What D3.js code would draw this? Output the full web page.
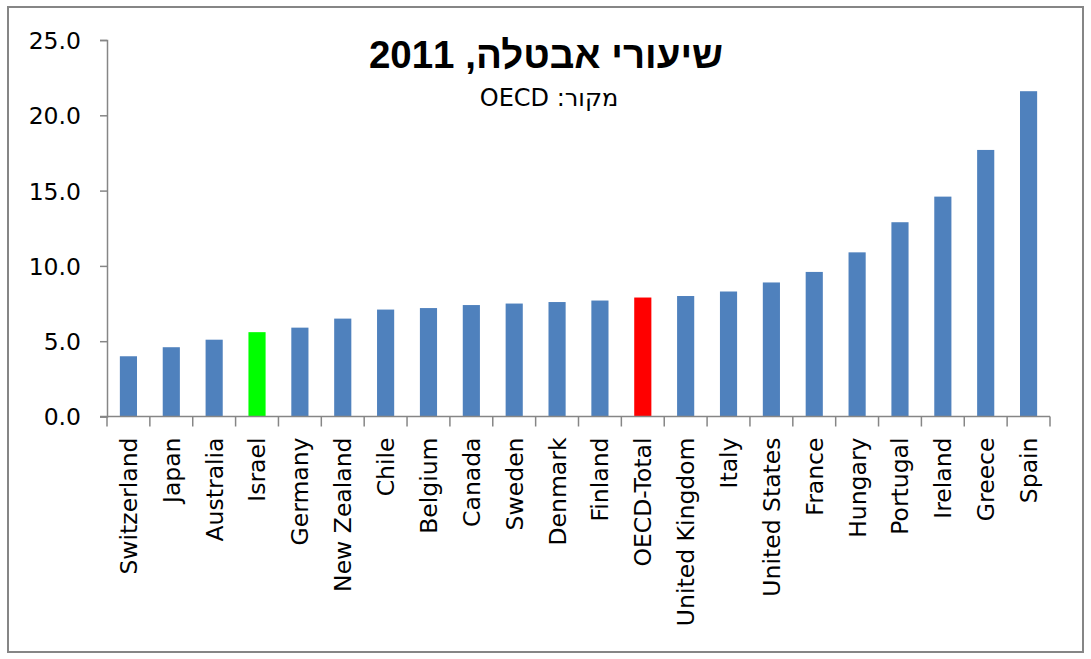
<html lang="he">
<head>
<meta charset="UTF-8">
<title>Unemployment 2011</title>
<script src="https://d3js.org/d3.v7.min.js"></script>
<style>
    body { margin: 0; background: #fff; }
    .axis text { font-family: "DejaVu Sans", sans-serif; font-size: 23.5px; fill: #000; }
</style>
</head>
<body>
<div id="chart"></div>
<script>
    // data
    const countries = ["Switzerland", "Japan", "Australia", "Israel", "Germany", "New Zealand",
        "Chile", "Belgium", "Canada", "Sweden", "Denmark", "Finland", "OECD-Total",
        "United Kingdom", "Italy", "United States", "France", "Hungary", "Portugal",
        "Ireland", "Greece", "Spain"];
    const rates = [4.0, 4.6, 5.1, 5.6, 5.9, 6.5, 7.1, 7.2, 7.4, 7.5, 7.6, 7.7, 7.9,
        8.0, 8.3, 8.9, 9.6, 10.9, 12.9, 14.6, 17.7, 21.6];
    const yTicks = [0, 5, 10, 15, 20, 25];
    const highlight = { "Israel": "#00ff00", "OECD-Total": "#ff0000" };

    const W = 1091, H = 659;
    const margin = { top: 40, left: 107, right: 41, bottom: 242.5 };

    const svg = d3.select("#chart").append("svg")
        .attr("width", W)
        .attr("height", H);

    // chart frame
    svg.append("rect")
        .attr("x", 8).attr("y", 7)
        .attr("width", 1075).attr("height", 645)
        .attr("fill", "none")
        .attr("stroke", "#868686")
        .attr("stroke-width", 2);

    const x = d3.scaleBand()
        .domain(countries)
        .range([margin.left, W - margin.right])
        .paddingInner(0.6)
        .paddingOuter(0.3);

    const y = d3.scaleLinear()
        .domain([0, 25])
        .range([H - margin.bottom, margin.top]);

    // bars
    svg.append("g")
        .selectAll("rect")
        .data(countries)
        .enter()
        .append("rect")
        .attr("x", d => x(d))
        .attr("width", x.bandwidth())
        .attr("y", (d, i) => y(rates[i]))
        .attr("height", (d, i) => y(0) - y(rates[i]))
        .attr("fill", d => highlight[d] || "#4f81bd");

    // y axis
    const yAxis = svg.append("g")
        .attr("class", "axis")
        .attr("transform", "translate(" + margin.left + ",0)")
        .call(d3.axisLeft(y).tickValues(yTicks).tickFormat(d3.format(".1f")).tickSize(7).tickPadding(19));
    yAxis.select(".domain").attr("stroke", "#868686").attr("stroke-width", 1.5);
    yAxis.selectAll(".tick line").attr("stroke", "#868686").attr("stroke-width", 1.5);
    yAxis.selectAll("text").attr("dy", "0.36em");

    // x axis: ticks sit between categories
    const step = x.step();
    const bounds = d3.range(countries.length + 1).map(i => margin.left + i * step);
    const xg = svg.append("g").attr("class", "axis");
    xg.append("line")
        .attr("x1", margin.left - 7).attr("x2", W - margin.right)
        .attr("y1", y(0)).attr("y2", y(0))
        .attr("stroke", "#868686").attr("stroke-width", 1.5);
    xg.selectAll(".tk")
        .data(bounds)
        .enter()
        .append("line")
        .attr("x1", d => d).attr("x2", d => d)
        .attr("y1", y(0)).attr("y2", y(0) + 10)
        .attr("stroke", "#868686").attr("stroke-width", 1.5);
    xg.selectAll(".lbl")
        .data(countries)
        .enter()
        .append("text")
        .attr("text-anchor", "end")
        .attr("dy", "0.36em")
        .attr("transform", d => "translate(" + (x(d) + x.bandwidth() / 2) + "," + (y(0) + 21) + ") rotate(-90)")
        .text(d => d);

    // titles (right-to-left)
    svg.append("text")
        .attr("x", 546).attr("y", 68)
        .attr("text-anchor", "middle")
        .attr("direction", "rtl")
        .attr("unicode-bidi", "embed")
        .style("font-family", "'Liberation Sans', Arial, sans-serif")
        .style("font-weight", "bold")
        .style("font-size", "38.5px")
        .text("שיעורי אבטלה, 2011");

    svg.append("text")
        .attr("x", 549).attr("y", 106)
        .attr("text-anchor", "middle")
        .attr("direction", "rtl")
        .attr("unicode-bidi", "embed")
        .style("font-family", "'DejaVu Sans', sans-serif")
        .style("font-size", "24px")
        .text("מקור: OECD");
</script>
</body>
</html>
